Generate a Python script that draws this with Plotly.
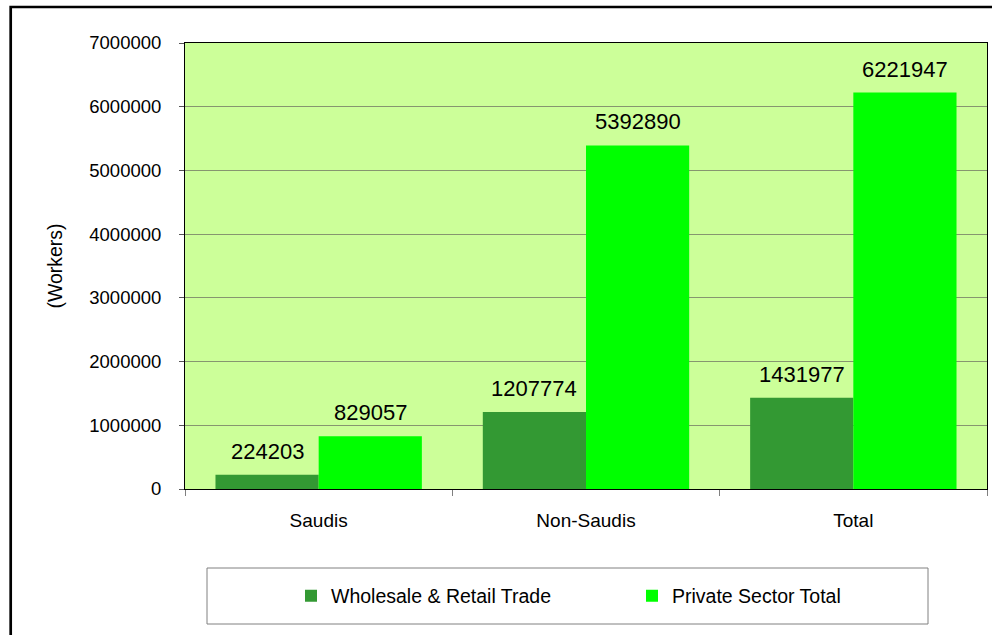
import plotly.graph_objects as go

categories = ["Saudis", "Non-Saudis", "Total"]
wholesale = [224203, 1207774, 1431977]
private_total = [829057, 5392890, 6221947]
series_names = ["Wholesale & Retail Trade", "Private Sector Total"]
y_ticks = [0, 1000000, 2000000, 3000000, 4000000, 5000000, 6000000, 7000000]

W, H = 992, 635
L, R, T, B = 185, 5, 43, 146
pw, ph = W - L - R, H - T - B
BARGAP = 0.228


def px_x(x):
    return (x - L) / pw


def px_y(y):
    return (H - B - y) / ph


FONT = "Liberation Sans, Arial, sans-serif"

fig = go.Figure()
fig.add_trace(go.Bar(
    x=categories, y=wholesale, name=series_names[0],
    marker=dict(color="#339933", line=dict(width=0)),
))
fig.add_trace(go.Bar(
    x=categories, y=private_total, name=series_names[1],
    marker=dict(color="#00FF00", line=dict(width=0)),
))

# value labels above each bar (offset half a bar width to each side of the category)
bar_px = pw / len(categories) * (1 - BARGAP) / 2
annotations = []
for series, shift in ((wholesale, -bar_px / 2), (private_total, bar_px / 2)):
    for cat, val in zip(categories, series):
        annotations.append(dict(
            x=cat, y=val, xref="x", yref="y", text=str(val), showarrow=False,
            xshift=shift, yshift=9, yanchor="bottom", xanchor="center",
            font=dict(size=22, family=FONT, color="#000000"),
        ))

fig.update_layout(
    width=W, height=H,
    margin=dict(l=L, r=R, t=T, b=B, pad=0),
    paper_bgcolor="#FFFFFF",
    plot_bgcolor="#CCFF99",
    barmode="group", bargap=BARGAP, bargroupgap=0,
    font=dict(family=FONT, color="#000000", size=18),
    showlegend=True,
    legend=dict(
        orientation="h", x=px_x(291), xanchor="left", y=px_y(596), yanchor="middle",
        bgcolor="rgba(0,0,0,0)", borderwidth=0,
        font=dict(size=19.5, family=FONT, color="#000000"),
        entrywidth=296, entrywidthmode="pixels",
    ),
    xaxis=dict(
        showline=True, linecolor="#000000", linewidth=1, mirror=True,
        ticks="outside", ticklen=6, tickcolor="#808080", tickson="boundaries",
        tickfont=dict(size=19, family=FONT, color="#000000"),
        ticklabelstandoff=14,
        showgrid=False,
    ),
    yaxis=dict(
        range=[0, 7000000], tickvals=y_ticks, ticktext=[str(v) for v in y_ticks],
        showline=True, linecolor="#000000", linewidth=1, mirror=True,
        ticks="outside", ticklen=5, tickcolor="#555555",
        tickfont=dict(size=18.5, family=FONT, color="#000000"),
        ticklabelstandoff=14,
        showgrid=True, gridcolor="#86966f", gridwidth=1,
        zeroline=True, zerolinecolor="#000000", zerolinewidth=1,
        title=dict(text="(Workers)", font=dict(size=19.5, family=FONT, color="#000000"), standoff=21),
    ),
    annotations=annotations,
    shapes=[
        dict(type="rect", xref="paper", yref="paper",
             x0=px_x(10.7), x1=px_x(1000), y0=px_y(7), y1=px_y(700),
             line=dict(color="#000000", width=2.7), fillcolor="rgba(0,0,0,0)", layer="above"),
        dict(type="rect", xref="paper", yref="paper",
             x0=px_x(207), x1=px_x(928), y0=px_y(568), y1=px_y(624),
             line=dict(color="#808080", width=1), fillcolor="rgba(0,0,0,0)", layer="below"),
    ],
)

fig.write_html("out.html")
